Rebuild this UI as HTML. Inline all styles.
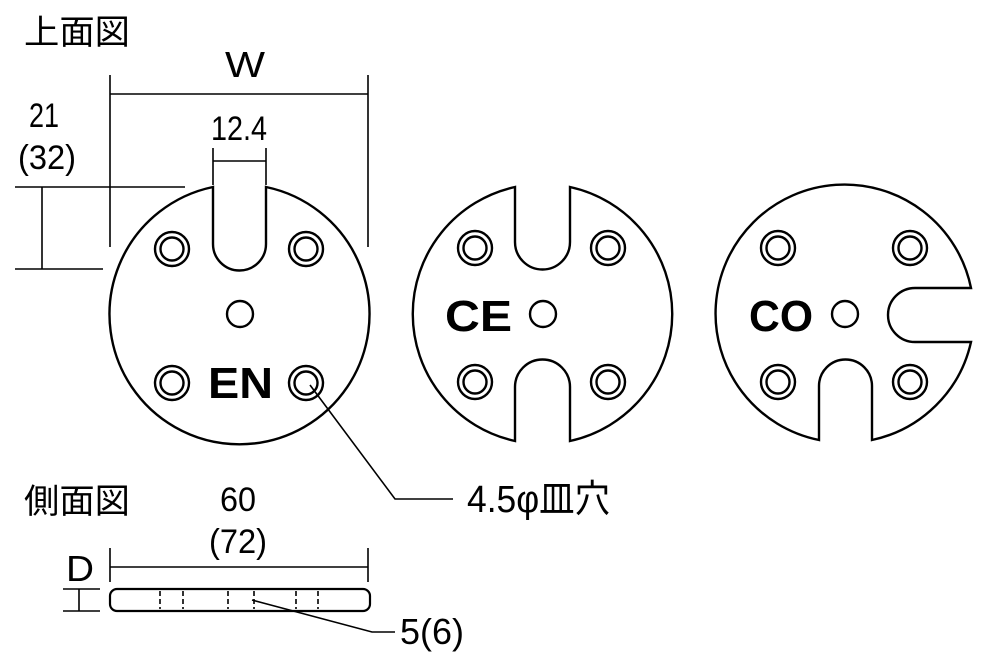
<!DOCTYPE html>
<html><head><meta charset="utf-8"><style>
html,body{margin:0;padding:0;background:#fff;}
svg{display:block;}
text{font-family:"Liberation Sans","Noto Sans CJK JP",sans-serif;fill:#000;}
</style></head><body>
<svg width="1000" height="657" viewBox="0 0 1000 657" xmlns="http://www.w3.org/2000/svg">
<g fill="none" stroke="#000" stroke-width="2.4">
<path d="M213,187 A130,130 0 1,0 266,187 L266,244 A26.5,26.5 0 0,1 213,244 Z"/>
<circle cx="240" cy="314" r="13"/>
<path d="M515,187 A130,130 0 0,0 515,441 L515,387 A27.5,27.5 0 0,1 570,387 L570,441 A130,130 0 0,0 570,187 L570,242 A27.5,27.5 0 0,1 515,242 Z"/>
<circle cx="543" cy="314" r="13"/>
<path d="M971,288 A129,129 0 1,0 819,440 L819,386 A26.5,26.5 0 0,1 872,386 L872,440 A129,129 0 0,0 971,342 L915,342 A27,27 0 0,1 915,288 Z"/>
<circle cx="845" cy="314" r="13"/>
</g>
<g fill="none" stroke="#000" stroke-width="2.4">
<circle cx="172" cy="249" r="17"/><circle cx="172" cy="249" r="11.5"/>
<circle cx="306" cy="249" r="17"/><circle cx="306" cy="249" r="11.5"/>
<circle cx="172" cy="383" r="17"/><circle cx="172" cy="383" r="11.5"/>
<circle cx="306" cy="383" r="17"/><circle cx="306" cy="383" r="11.5"/>
<circle cx="475" cy="248" r="17"/><circle cx="475" cy="248" r="11.5"/>
<circle cx="608" cy="248" r="17"/><circle cx="608" cy="248" r="11.5"/>
<circle cx="475" cy="382" r="17"/><circle cx="475" cy="382" r="11.5"/>
<circle cx="608" cy="382" r="17"/><circle cx="608" cy="382" r="11.5"/>
<circle cx="778" cy="248" r="17"/><circle cx="778" cy="248" r="11.5"/>
<circle cx="910" cy="248" r="17"/><circle cx="910" cy="248" r="11.5"/>
<circle cx="778" cy="382" r="17"/><circle cx="778" cy="382" r="11.5"/>
<circle cx="910" cy="382" r="17"/><circle cx="910" cy="382" r="11.5"/>
</g>
<g stroke="#000" stroke-width="1.6" fill="none">
<line x1="110" y1="94" x2="368" y2="94"/>
<line x1="110" y1="75" x2="110" y2="247"/>
<line x1="368" y1="75" x2="368" y2="247"/>
<line x1="213" y1="161" x2="266" y2="161"/>
<line x1="213" y1="148" x2="213" y2="185"/>
<line x1="266" y1="148" x2="266" y2="185"/>
<line x1="15" y1="187" x2="185" y2="187"/>
<line x1="15" y1="269" x2="103" y2="269"/>
<line x1="42" y1="187" x2="42" y2="269"/>
<polyline points="310,385 395,499 453,499"/>
<line x1="110" y1="567" x2="368" y2="567"/>
<line x1="110" y1="548" x2="110" y2="582"/>
<line x1="368" y1="548" x2="368" y2="582"/>
<line x1="63" y1="589" x2="100" y2="589"/>
<line x1="63" y1="611" x2="100" y2="611"/>
<line x1="79" y1="589" x2="79" y2="611"/>
<polyline points="252,600 372,632 395,632"/>
</g>
<rect x="110" y="589" width="260" height="22" rx="7" ry="7" fill="none" stroke="#000" stroke-width="2.2"/>
<g stroke="#000" stroke-width="1.6" stroke-dasharray="5,3" fill="none">
<line x1="160" y1="591" x2="160" y2="609"/>
<line x1="183" y1="591" x2="183" y2="609"/>
<line x1="228" y1="591" x2="228" y2="609"/>
<line x1="254" y1="591" x2="254" y2="609"/>
<line x1="296" y1="591" x2="296" y2="609"/>
<line x1="318" y1="591" x2="318" y2="609"/>
</g>
<text x="24" y="44" font-size="34" textLength="106" lengthAdjust="spacingAndGlyphs">上面図</text>
<text x="24" y="513" font-size="34" textLength="106" lengthAdjust="spacingAndGlyphs">側面図</text>
<text x="225" y="77" font-size="36" textLength="40" lengthAdjust="spacingAndGlyphs">W</text>
<text x="211" y="140" font-size="34" textLength="56" lengthAdjust="spacingAndGlyphs">12.4</text>
<text x="29" y="127" font-size="34" textLength="30" lengthAdjust="spacingAndGlyphs">21</text>
<text x="18" y="169" font-size="34" textLength="58" lengthAdjust="spacingAndGlyphs">(32)</text>
<text x="220" y="511" font-size="34" textLength="36" lengthAdjust="spacingAndGlyphs">60</text>
<text x="209" y="553" font-size="34" textLength="58" lengthAdjust="spacingAndGlyphs">(72)</text>
<text x="66" y="581" font-size="36" textLength="28" lengthAdjust="spacingAndGlyphs">D</text>
<text x="400" y="644" font-size="36" textLength="64" lengthAdjust="spacingAndGlyphs">5(6)</text>
<text x="467" y="512" font-size="38" textLength="143" lengthAdjust="spacingAndGlyphs">4.5φ皿穴</text>
<text x="208" y="398" font-size="44" font-weight="bold" textLength="65" lengthAdjust="spacingAndGlyphs">EN</text>
<text x="445" y="331" font-size="44" font-weight="bold" textLength="67" lengthAdjust="spacingAndGlyphs">CE</text>
<text x="749" y="331" font-size="44" font-weight="bold" textLength="64" lengthAdjust="spacingAndGlyphs">CO</text>
</svg>
</body></html>
